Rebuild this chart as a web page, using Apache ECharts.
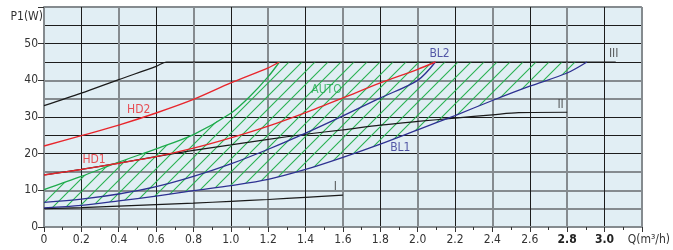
<!DOCTYPE html>
<html><head><meta charset="utf-8">
<script src="https://cdn.jsdelivr.net/npm/echarts@6/dist/echarts.min.js"></script>
<style>html,body{margin:0;padding:0;background:#fff}#c{width:673px;height:250px}</style>
</head><body><div id="c"></div>
<script>
// ---- data (Q in m3/h, P1 in W) ----
const curveI   = [[0,5.0],[0.2,5.3],[0.4,5.7],[0.6,6.1],[0.8,6.5],[1.0,7.0],[1.2,7.5],[1.4,8.1],[1.6,8.7]];
const curveII  = [[0,14.2],[0.2,15.7],[0.4,17.4],[0.6,19.2],[0.8,20.9],[1.0,22.4],[1.2,23.9],[1.4,25.3],[1.6,26.5],[1.8,27.8],[2.0,28.8],[2.2,29.7],[2.4,30.6],[2.54,31.2],[2.8,31.3]];
const curveIII = [[0,33.1],[0.2,36.5],[0.4,40.2],[0.6,43.8],[0.656,45],[3.06,45]];
const hd1 = [[0,14.2],[0.2,15.7],[0.4,17.4],[0.6,19.2],[0.8,21.5],[1.0,24.3],[1.2,27.5],[1.4,31.2],[1.6,35.2],[1.8,39.3],[2.0,43.0],[2.095,45]];
const hd2 = [[0,22.1],[0.2,24.9],[0.4,27.8],[0.6,31.1],[0.8,34.8],[1.0,39.3],[1.2,43.4],[1.26,45]];
const bl1 = [[0,5.2],[0.2,5.9],[0.4,7.1],[0.6,8.4],[0.8,9.9],[1.0,11.3],[1.2,13.0],[1.4,15.7],[1.6,19.0],[1.8,22.6],[2.0,26.5],[2.2,30.4],[2.4,34.5],[2.6,38.4],[2.8,42.0],[2.906,45]];
const bl2 = [[0,6.7],[0.2,7.6],[0.4,9.0],[0.6,11.0],[0.8,13.8],[1.0,17.2],[1.2,21.2],[1.4,25.6],[1.6,30.3],[1.8,35.2],[2.0,40.0],[2.095,45]];
const autoTop = [[0,10.2],[0.2,13.8],[0.4,17.7],[0.6,21.3],[0.8,25.2],[1.0,31.0],[1.1,35.5],[1.2,41.0],[1.26,45]];
const autoCapEnd = [2.906,45];
const curveLabels = [
  ['HD2',0.507,31.9,'red'],['HD1',0.268,18.3,'red'],['AUTO',1.512,37.4,'green'],
  ['BL2',2.117,47.3,'blue'],['BL1',1.907,21.7,'blue'],
  ['I',1.56,11.0,'black'],['II',2.765,33.2,'black'],['III',3.049,47.1,'black']
];
const xMin = 0, xMax = 3.2, xStep = 0.2;
const yMin = 0, yMax = 60, yStep = 10, yMinorStep = 5;
const yName = 'P1(W)';
const xName = 'Q(m³/h)';
const boldTicks = [2.8, 3.0];
// which horizontal grid lines (0..60 by 5) are grey (true) or black (false)
const yGridGrey = [true,true,true,true,false,false,false,true,true,false,false,false,true];

// ---- style ----
const COL = {red:'#e8262c', blue:'#2e3192', green:'#1eab4c', black:'#1a1a1a'};
const GREY = '#858b8f', BLACK = '#1c1c1c';
const FONT = 'DejaVu Sans Condensed';

const pc = document.createElement('canvas');
pc.width = 13; pc.height = 13;
const g = pc.getContext('2d');
g.strokeStyle = '#27b050'; g.lineWidth = 1.1;
for (const k of [0,13,26]) { g.beginPath(); g.moveTo(-2, k+2); g.lineTo(k+2, -2); g.stroke(); }
const hatch = {image: pc, repeat: 'repeat'};

const hatchPoly = autoTop.concat([autoCapEnd]).concat(bl1.slice().reverse());

const chart = echarts.init(document.getElementById('c'), null, {renderer:'canvas'});

function xFmt(v){
  if (Math.abs(v - xMax) < 1e-6) return '{q|' + xName + '}';
  const s = Math.abs(v) < 1e-9 ? '0' : v.toFixed(1);
  if (boldTicks.some(b => Math.abs(b - v) < 1e-6)) return '{b|' + s + '}';
  return s;
}
const xGreyCols = [], xBlackCols = [];
for (let i = 0; i <= Math.round((xMax-xMin)/xStep); i++) {
  xGreyCols.push(i % 2 === 0 ? GREY : 'rgba(0,0,0,0)');
  xBlackCols.push(i % 2 === 1 ? BLACK : 'rgba(0,0,0,0)');
}
const yGreyCols = yGridGrey.map(gr => gr ? GREY : 'rgba(0,0,0,0)');
const yBlackCols = yGridGrey.map(gr => gr ? 'rgba(0,0,0,0)' : BLACK);

const hiddenAxis = (extra) => Object.assign({type:'value', axisLine:{show:false}, axisTick:{show:false}, axisLabel:{show:false}}, extra);

function line(data, color, w, z){
  return {type:'line', data, xAxisIndex:0, yAxisIndex:0, symbol:'none', smooth:0.3, z,
    lineStyle:{color, width:w}, silent:true};
}

chart.setOption({
  animation:false,
  textStyle:{fontFamily:FONT},
  grid:{left:44, top:7, width:600, height:220, show:true, backgroundColor:'#e1eef4', borderWidth:0},
  xAxis:[
    {type:'value', min:xMin, max:xMax, interval:xStep, position:'bottom',
     axisLine:{show:true, onZero:false, lineStyle:{color:GREY, width:2}},
     axisTick:{show:true, length:5, lineStyle:{color:'#333', width:1}},
     minorTick:{show:true, splitNumber:2, length:3, lineStyle:{color:'#333', width:1}},
     axisLabel:{color:'#333', fontSize:12, fontFamily:FONT, margin:7, formatter:xFmt,
       rich:{b:{fontWeight:'bold', fontSize:12, fontFamily:FONT, color:'#222'},
             q:{fontSize:12, fontFamily:FONT, color:'#333', padding:[0,0,0,14]}}},
     splitLine:{show:false}},
    hiddenAxis({min:xMin, max:xMax, interval:xStep, position:'top', splitLine:{show:true, lineStyle:{color:xGreyCols, width:2}}}),
    hiddenAxis({min:xMin, max:xMax, interval:xStep, position:'top', splitLine:{show:true, lineStyle:{color:xBlackCols, width:1}}})
  ],
  yAxis:[
    {type:'value', min:yMin, max:yMax, interval:yStep, position:'left',
     axisLine:{show:true, onZero:false, lineStyle:{color:GREY, width:2}},
     axisTick:{show:true, length:6, lineStyle:{color:'#333', width:1}},
     axisLabel:{color:'#333', fontSize:12, fontFamily:FONT, margin:6,
       formatter:v => (v >= yMax ? '' : String(v))},
     name:yName, nameLocation:'end', nameGap:-10,
     nameTextStyle:{color:'#333', fontSize:12, fontFamily:FONT, align:'right', verticalAlign:'middle', padding:[0,1,0,0]},
     splitLine:{show:false}},
    hiddenAxis({min:yMin, max:yMax, interval:yMinorStep, position:'right', splitLine:{show:true, lineStyle:{color:yGreyCols, width:2}}}),
    hiddenAxis({min:yMin, max:yMax, interval:yMinorStep, position:'right', splitLine:{show:true, lineStyle:{color:yBlackCols, width:1}}})
  ],
  series:[
    {type:'custom', xAxisIndex:0, yAxisIndex:0, data:[[0,0]], silent:true, z:1, clip:true,
     renderItem:(params, api) => ({type:'polygon', shape:{points:hatchPoly.map(p => api.coord(p))},
       style:{fill:hatch, stroke:null}})},
    line(curveI, COL.black, 1.2, 2),
    line(curveII, COL.black, 1.2, 2),
    line(curveIII, COL.black, 1.2, 2),
    line(bl1, COL.blue, 1.3, 3),
    line(bl2, COL.blue, 1.3, 3),
    line(autoTop, COL.green, 1.3, 3),
    line(hd1, COL.red, 1.4, 4),
    line(hd2, COL.red, 1.4, 4),
    {type:'scatter', xAxisIndex:0, yAxisIndex:0, symbolSize:0, silent:true, z:5,
     data: curveLabels.map(l => ({value:[l[1], l[2]], name:l[0],
       label:{show:true, position:'inside', formatter:l[0], color: l[3]==='black' ? '#333' : COL[l[3]],
              fontSize:12, fontFamily:FONT}}))}
  ]
});
</script>
</body></html>
